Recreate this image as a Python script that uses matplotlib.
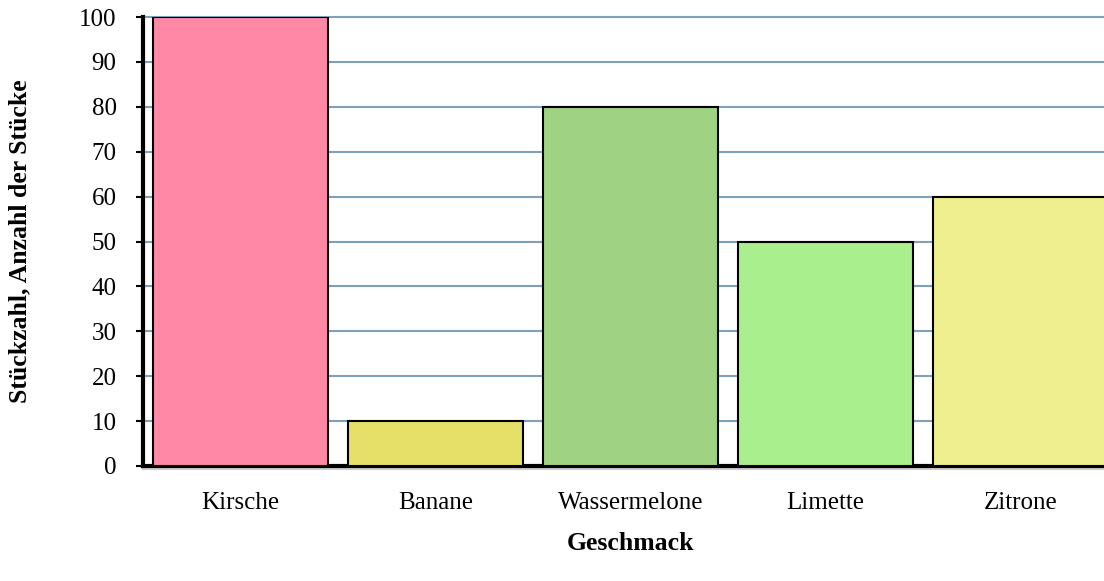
import matplotlib
matplotlib.use("Agg")
import matplotlib.pyplot as plt

categories = ["Kirsche", "Banane", "Wassermelone", "Limette", "Zitrone"]
values = [100, 10, 80, 50, 60]
colors = ["#FF88A6", "#E6DF68", "#9FD383", "#A9EF8E", "#EFEF8F"]
yticks = [0, 10, 20, 30, 40, 50, 60, 70, 80, 90, 100]

plt.rcParams['font.family'] = ['Liberation Serif', 'DejaVu Serif']

fig = plt.figure(figsize=(11.04, 5.81), dpi=100)
W, H = 1104, 581
left, right, top, bottom = 143, 1118, 17, 466
ax = fig.add_axes([left / W, (H - bottom) / H, (right - left) / W, (bottom - top) / H])

x = list(range(len(categories)))
ax.bar(x, values, width=0.9, color=colors, edgecolor="black", linewidth=1.5, zorder=3)

ax.set_xlim(-0.5, len(categories) - 0.5)
ax.set_ylim(0, 100)
ax.set_yticks(yticks)
ax.set_yticklabels([str(v) for v in yticks], fontsize=18)
ax.set_xticks(x)
ax.set_xticklabels(categories, fontsize=18)
ax.tick_params(axis='x', length=0, pad=19)
ax.tick_params(axis='y', length=5, width=1.5, direction='out', pad=14)

ax.yaxis.grid(True, color="#7FA0BA", linewidth=1.5, zorder=0)
for gl in ax.yaxis.get_gridlines():
    gl.set_clip_on(False)
ax.set_axisbelow(True)

for s in ["top", "right"]:
    ax.spines[s].set_visible(False)
ax.spines["left"].set_linewidth(3)
ax.spines["bottom"].set_linewidth(3)

# thin gray line just below the baseline
ax.plot([0, 1], [-0.007, -0.007], transform=ax.transAxes, color="#CFCFCF",
        linewidth=1.5, clip_on=False, zorder=1)

ax.set_ylabel("Stückzahl, Anzahl der Stücke", fontsize=18.5, fontweight="bold")
ax.yaxis.set_label_coords((20 - left) / (right - left), 0.5)
ax.yaxis.label.set_horizontalalignment("center")
ax.yaxis.label.set_verticalalignment("center")
ax.set_xlabel("Geschmack", fontsize=18.5, fontweight="bold")
ax.xaxis.set_label_coords((630 - left) / (right - left), -(544 - bottom) / (bottom - top))
ax.xaxis.label.set_verticalalignment("center")

fig.savefig("out.png", dpi=100)
